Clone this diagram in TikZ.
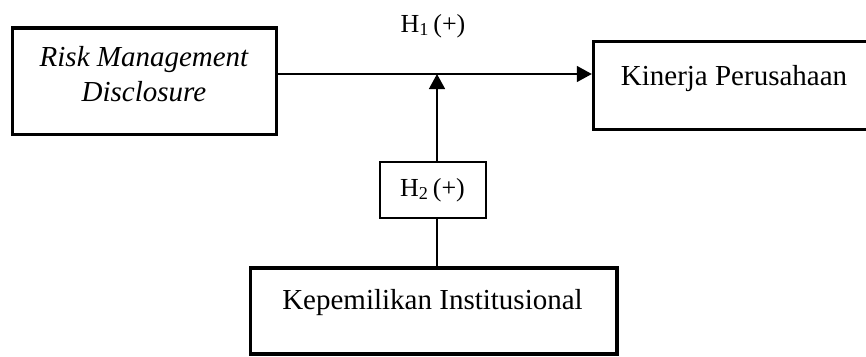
\documentclass[tikz,border=0pt]{standalone}
\usepackage{fontspec}
\setmainfont{Liberation Serif}
\usetikzlibrary{arrows.meta}
\begin{document}
\begin{tikzpicture}[x=1pt,y=-1pt,
  bigbox/.style={draw, line width=3.4pt, inner sep=0pt},
  smallbox/.style={draw, line width=2pt, inner sep=0pt,
    font=\fontsize{26}{31}\selectfont},
  txt/.style={inner sep=0pt, font=\fontsize{29}{35}\selectfont},
  hlabel/.style={inner sep=0pt, font=\fontsize{26}{31}\selectfont},
  conn/.style={line width=1.4pt},
  tip/.style={-{Triangle[length=15pt,width=16pt]}}]
\useasboundingbox (0,0) rectangle (866,356);
\clip (0,0) rectangle (866,356);

% variable boxes
\node[bigbox, minimum width=264pt, minimum height=106.5pt] (rmd) at (144.5,81.25) {};
\node[txt, align=center] (rmdtext) at (144,74.6) {\itshape Risk Management\\\itshape Disclosure};

\node[bigbox, minimum width=282.5pt, minimum height=88pt] (kp) at (734.75,85.5) {};
\node[txt, anchor=base] (kptext) at (734,85) {Kinerja Perusahaan};

\node[bigbox, minimum width=366.5pt, minimum height=86pt] (ki) at (433.75,311) {};
\node[txt, anchor=base] (kitext) at (432.5,309) {Kepemilikan Institusional};

% moderation hypothesis box
\node[smallbox, minimum width=106pt, minimum height=56pt] (h2) at (432.5,190) {H\textsubscript{2}\,(+)};

% hypothesis label above the main path
\node[hlabel, anchor=base] (h1) at (433,32) {H\textsubscript{1}\,(+)};

% junction on the main path
\coordinate (jn) at (437,74);

% connectors
\draw[conn, tip] (rmd.east |- jn) -- (kp.west |- jn);
\draw[conn] (ki.north -| jn) -- (h2.south -| jn);
\draw[conn, tip] (h2.north -| jn) -- (jn);
\end{tikzpicture}
\end{document}
